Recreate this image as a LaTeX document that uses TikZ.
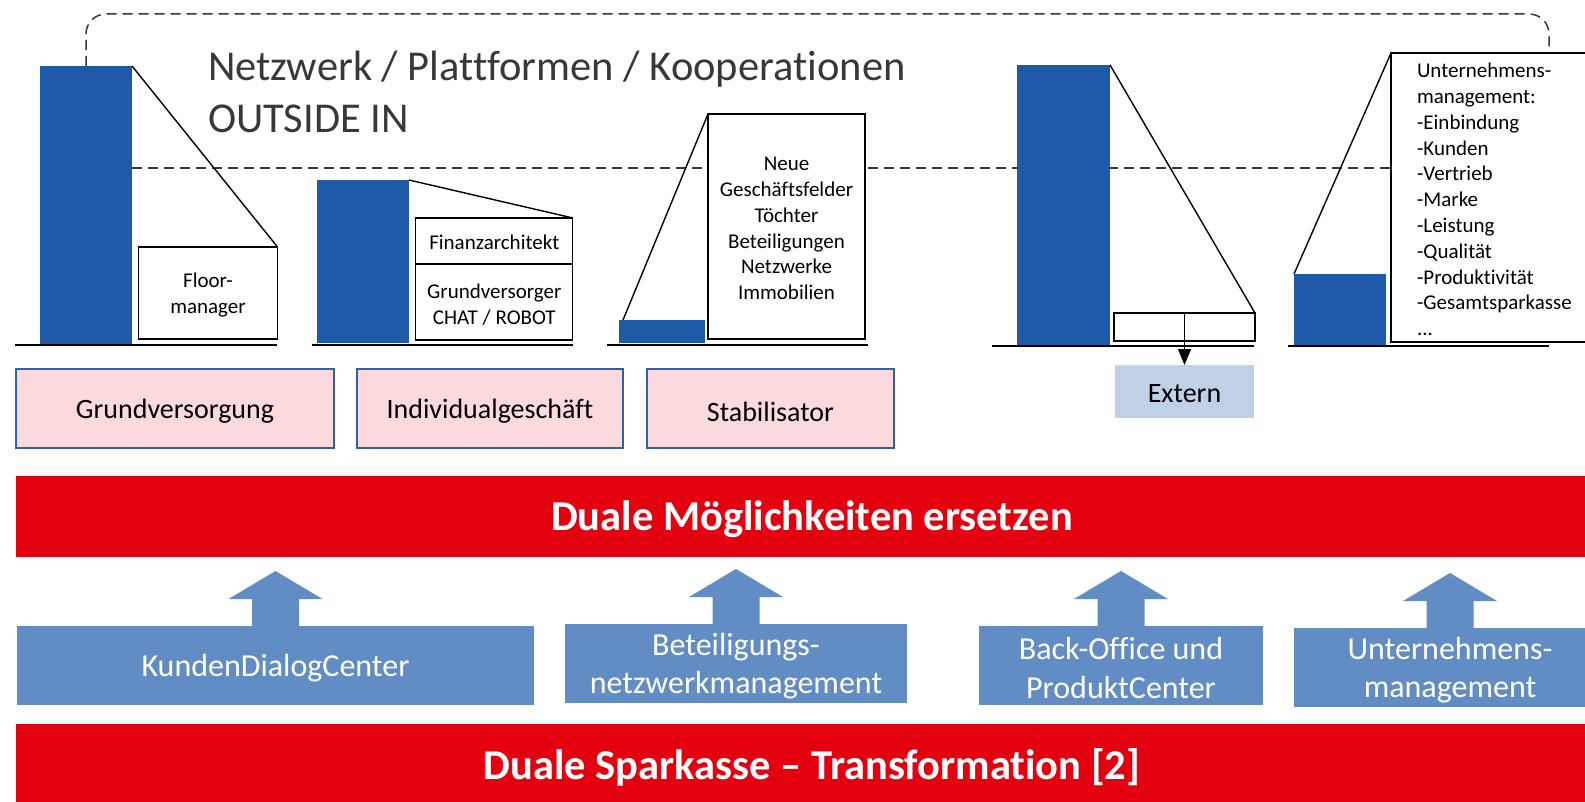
\documentclass[tikz,border=0pt]{standalone}
\usepackage{fontspec}
\setmainfont{Carlito}[Ligatures={TeX,NoCommon},RawFeature={-liga;-dlig;-calt}]
\usetikzlibrary{calc,arrows.meta,backgrounds}
\definecolor{barblue}{HTML}{1F5AA8}
\definecolor{pinkfill}{HTML}{FADADD}
\definecolor{pinkedge}{HTML}{2E5FA8}
\definecolor{spred}{HTML}{E3000F}
\definecolor{blk}{HTML}{628DC4}
\definecolor{extfill}{HTML}{BFD0E7}
\definecolor{titlegray}{HTML}{383838}
\newcommand\blkarrow[1]{\fill[blk] ($(#1.north)+(-23.5,0)$) -- ++(0,-27) -- ++(-23.5,0) -- ++(47,-28) -- ++(47,28) -- ++(-23.5,0) -- ++(0,27) -- cycle;}
\begin{document}
\begin{tikzpicture}[x=1pt,y=-1pt,
  every node/.style={inner sep=0pt, outer sep=0pt},
  sz/.style 2 args={minimum width=#1pt, minimum height=#2pt},
  bar/.style={fill=barblue, draw=none},
  smalltxt/.style={font=\fontsize{21}{25.8}\selectfont, align=center},
  wbox/.style={draw=black, line width=1.2pt, fill=white},
  extbox/.style={fill=extfill},
  midtxt/.style={font=\fontsize{28}{33}\selectfont},
  pinkbox/.style={fill=pinkfill, draw=pinkedge, line width=2pt},
  redbar/.style={fill=spred},
  redtxt/.style={text=white, font=\fontsize{42.5}{50}\selectfont\bfseries},
  bluebox/.style={fill=blk},
  bluetxt/.style={text=white, align=center, font=\fontsize{32}{38.5}\selectfont},
  titletxt/.style={text=titlegray, font=\fontsize{42.5}{52}\selectfont, anchor=base west},
  groundline/.style={line width=2.5pt, black},
  diag/.style={line width=1.4pt, black},
  dashline/.style={line width=1.5pt, titlegray, dash pattern=on 10pt off 6pt}
]
\useasboundingbox (0,0) rectangle (1585,802);
\clip (0,0) rectangle (1585,802);

% title
\node[titletxt] (title1) at (208,81) {Netzwerk / Plattformen / Kooperationen};
\node[titletxt] (title2) at (208,133) {OUTSIDE IN};

% group 1
\node[bar, sz={92}{278}] (bar1) at (86,205) {};
\node[wbox, sz={139}{92}] (floor) at (208,293) {};
\node[smalltxt] (floor-t) at ($(floor)+(0,2)$) {Floor-\\manager};
% group 2
\node[bar, sz={92}{163}] (bar2) at (363,261.5) {};
\node[wbox, sz={157}{46}] (fin) at (494.3,241) {};
\node[smalltxt] (fin-t) at ($(fin)+(0,1.5)$) {Finanzarchitekt};
\node[wbox, sz={157}{76}] (grund) at (494.3,302) {};
\node[smalltxt] (grund-t) at ($(grund)+(0,3)$) {Grundversorger\\CHAT / ROBOT};
% group 3
\node[bar, sz={86}{23}] (bar3) at (662,331.5) {};
\node[wbox, sz={157}{225}] (neue) at (786.5,226.5) {};
\node[smalltxt] (neue-t) at ($(neue)+(0,2)$) {Neue\\Geschäftsfelder\\Töchter\\Beteiligungen\\Netzwerke\\Immobilien};
% group 4
\node[bar, sz={93}{280}] (bar4) at (1063.5,205) {};
\node[wbox, sz={141}{28}] (slot) at (1184.5,327) {};
\node[extbox, sz={139}{53}] (extern) at (1184.5,391.5) {};
\node[midtxt] (extern-t) at ($(extern)+(0,2)$) {Extern};
% group 5
\node[bar, sz={92}{71}] (bar5) at (1340,309.5) {};
\node[wbox, sz={220}{289}, anchor=north west] (unt) at (1391,53) {};
\node[smalltxt, align=left, anchor=west] (unt-t) at (1417,199.5) {Unternehmens-\\management:\\-Einbindung\\-Kunden\\-Vertrieb\\-Marke\\-Leistung\\-Qualität\\-Produktivität\\-Gesamtsparkasse\\...};

% background dashed lines
\coordinate (hy) at (0,168);
\coordinate (dend) at (1549,53);
\begin{pgfonlayer}{background}
\draw[dashline] (bar1.east |- hy) -- (unt.west |- hy);
\draw[dashline, rounded corners=20pt] (bar1.north) -- (86,14) -- (1549,14) -- (dend);
\end{pgfonlayer}

% ground lines
\draw[groundline] (15,345) -- (277,345);
\draw[groundline] (312,345) -- (573,345);
\draw[groundline] (607,345) -- (868,345);
\draw[groundline] (992,346) -- (1254,346);
\draw[groundline] (1288,346) -- (1549,346);

% diagonals
\draw[diag] (bar1.north east) -- (floor.north east);
\draw[diag] (bar2.north east) -- (fin.north east);
\draw[diag] ($(bar3.north west)+(4,0)$) -- (neue.north west);
\draw[diag] (bar4.north east) -- (slot.north east);
\draw[diag] (bar5.north west) -- (unt.north west);
\draw[line width=1.5pt, -{Triangle[length=16pt,width=13pt]}] (slot.north) -- (extern.north);

% pink boxes
\node[pinkbox, sz={318}{79}] (pb1) at (175,408.5) {};
\node[midtxt] (pb1-t) at ($(pb1)+(0,3)$) {Grundversorgung};
\node[pinkbox, sz={266}{79}] (pb2) at (490,408.5) {};
\node[midtxt] (pb2-t) at ($(pb2)+(0,3)$) {Individualgeschäft};
\node[pinkbox, sz={247}{79}] (pb3) at (770.5,408.5) {};
\node[midtxt] (pb3-t) at ($(pb3)+(0,3)$) {Stabilisator};

% red bars
\node[redbar, sz={1592}{81}] (red1) at (812,516.5) {};
\node[redtxt] (red1-t) at ($(red1)+(0,3)$) {Duale Möglichkeiten ersetzen};
\node[redbar, sz={1592}{84}] (red2) at (812,766) {};
\node[redtxt] (red2-t) at ($(red2)+(0,1.5)$) {Duale Sparkasse – Transformation [2]};

% blue boxes
\node[bluebox, sz={517}{79}] (kdc) at (275.5,665.5) {};
\node[bluetxt] (kdc-t) at ($(kdc)+(0,2.5)$) {KundenDialogCenter};
\node[bluebox, sz={342}{79}] (bet) at (736,663.5) {};
\node[bluetxt] (bet-t) at ($(bet)+(0,2.5)$) {Beteiligungs-\\netzwerkmanagement};
\node[bluebox, sz={284}{79}] (bo) at (1121,665.5) {};
\node[bluetxt] (bo-t) at ($(bo)+(0,2.5)$) {Back-Office und\\ProduktCenter};
\node[bluebox, sz={312}{79}] (um) at (1450,667.5) {};
\node[bluetxt] (um-t) at ($(um)+(0,2.5)$) {Unternehmens-\\management};
\blkarrow{kdc}
\blkarrow{bet}
\blkarrow{bo}
\blkarrow{um}
\end{tikzpicture}
\end{document}
